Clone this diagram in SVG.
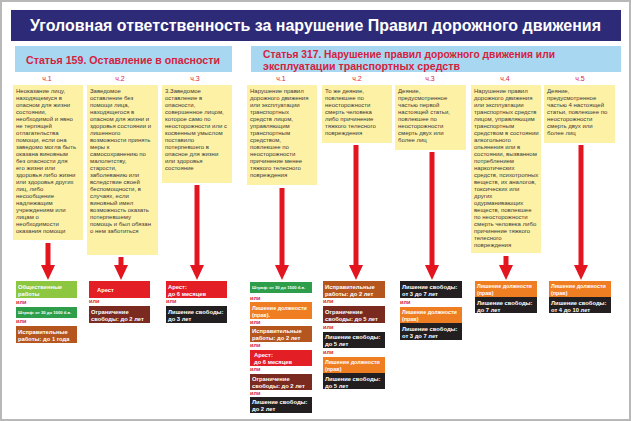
<svg xmlns="http://www.w3.org/2000/svg" width="631" height="421" viewBox="0 0 631 421">
<defs>
<style>
.frame{fill:#fff;stroke:#b8b8b8;stroke-width:2}
.ttl{font-family:"Liberation Sans",Arial,sans-serif;font-weight:bold;font-size:16px;fill:#fff}
.hdr{fill:#a7d7f1}
.hdt{font-family:"Liberation Sans",Arial,sans-serif;font-weight:bold;font-size:11.5px;fill:#d5213d}
.ch{font-family:"Liberation Sans",Arial,sans-serif;font-size:7px;fill:#d5213d;text-anchor:middle}
.yb{fill:#fdf1a5}
.yt{font-family:"Liberation Sans",Arial,sans-serif;font-size:6px;fill:#3a3a3a}
.bt{font-family:"Liberation Sans",Arial,sans-serif;font-weight:bold;font-size:5.8px;fill:#fff}
.ot{font-family:"Liberation Sans",Arial,sans-serif;font-weight:bold;font-size:5.4px;fill:#fff}
.st{font-family:"Liberation Sans",Arial,sans-serif;font-weight:bold;font-size:4.2px;fill:#fff}
.ili{font-family:"Liberation Sans",Arial,sans-serif;font-weight:bold;font-size:5.5px;fill:#d8232a}
.lime{fill:#8dc63f}.grn{fill:#2e9e4a}.brn{fill:#b5561f}.red{fill:#e31e24}.drd{fill:#7a2a1e}.blk{fill:#231f20}.org{fill:#ef7d22}
.arr{stroke:#e3161f;stroke-width:5;fill:none;marker-end:url(#ah)}
</style>
<marker id="ah" viewBox="0 0 15 14" markerWidth="15" markerHeight="14" refX="0" refY="7" orient="auto" markerUnits="userSpaceOnUse">
<path d="M0,0 L15,7 L0,14 z" fill="#e3161f"/>
</marker>
</defs>

<rect class="frame" x="1" y="1" width="629" height="419"/>

<g id="title">
<rect x="11" y="10" width="610" height="31" fill="#2d2a78"/>
<text class="ttl" x="30" y="31" textLength="571" lengthAdjust="spacingAndGlyphs">Уголовная ответственность за нарушение Правил дорожного движения</text>
</g>

<g id="header159">
<rect class="hdr" x="15" y="46" width="217" height="26"/>
<text class="hdt" x="26" y="63.5" textLength="194" lengthAdjust="spacingAndGlyphs">Статья 159. Оставление в опасности</text>
</g>

<g id="header317">
<rect class="hdr" x="251" y="46" width="370" height="26"/>
<text class="hdt" x="263" y="57.5" textLength="292" lengthAdjust="spacingAndGlyphs">Статья 317. Нарушение правил дорожного движения или</text>
<text class="hdt" x="263" y="69.5" textLength="197" lengthAdjust="spacingAndGlyphs">эксплуатации транспортных средств</text>
</g>

<g id="labels">
<text class="ch" x="47" y="81">ч.1</text>
<text class="ch" x="120" y="81">ч.2</text>
<text class="ch" x="195" y="81">ч.3</text>
<text class="ch" x="281" y="81">ч.1</text>
<text class="ch" x="357" y="81">ч.2</text>
<text class="ch" x="430" y="81">ч.3</text>
<text class="ch" x="505" y="81">ч.4</text>
<text class="ch" x="580" y="81">ч.5</text>
</g>

<g id="a159-1">
<rect class="yb" x="13" y="85" width="70" height="155"/>
<text class="yt" x="16" y="93"><tspan x="16">Неоказание лицу,</tspan><tspan x="16" dy="7">находящемуся в</tspan><tspan x="16" dy="7">опасном для жизни</tspan><tspan x="16" dy="7">состоянии,</tspan><tspan x="16" dy="7">необходимой и явно</tspan><tspan x="16" dy="7">не терпящей</tspan><tspan x="16" dy="7">отлагательства</tspan><tspan x="16" dy="7">помощи, если она</tspan><tspan x="16" dy="7">заведомо могла быть</tspan><tspan x="16" dy="7">оказана виновным</tspan><tspan x="16" dy="7">без опасности для</tspan><tspan x="16" dy="7">его жизни или</tspan><tspan x="16" dy="7">здоровья либо жизни</tspan><tspan x="16" dy="7">или здоровья других</tspan><tspan x="16" dy="7">лиц, либо</tspan><tspan x="16" dy="7">несообщение</tspan><tspan x="16" dy="7">надлежащим</tspan><tspan x="16" dy="7">учреждениям или</tspan><tspan x="16" dy="7">лицам о</tspan><tspan x="16" dy="7">необходимости</tspan><tspan x="16" dy="7">оказания помощи</tspan></text>
</g>

<g id="a159-2">
<rect class="yb" x="87" y="85" width="71" height="170"/>
<text class="yt" x="90" y="93"><tspan x="90">Заведомое</tspan><tspan x="90" dy="7">оставление без</tspan><tspan x="90" dy="7">помощи лица,</tspan><tspan x="90" dy="7">находящегося в</tspan><tspan x="90" dy="7">опасном для жизни и</tspan><tspan x="90" dy="7">здоровья состоянии и</tspan><tspan x="90" dy="7">лишенного</tspan><tspan x="90" dy="7">возможности принять</tspan><tspan x="90" dy="7">меры к</tspan><tspan x="90" dy="7">самосохранению по</tspan><tspan x="90" dy="7">малолетству,</tspan><tspan x="90" dy="7">старости,</tspan><tspan x="90" dy="7">заболеванию или</tspan><tspan x="90" dy="7">вследствие своей</tspan><tspan x="90" dy="7">беспомощности, в</tspan><tspan x="90" dy="7">случаях, если</tspan><tspan x="90" dy="7">виновный имел</tspan><tspan x="90" dy="7">возможность оказать</tspan><tspan x="90" dy="7">потерпевшему</tspan><tspan x="90" dy="7">помощь и был обязан</tspan><tspan x="90" dy="7">о нем заботиться</tspan></text>
</g>

<g id="a159-3">
<rect class="yb" x="162" y="85" width="70" height="98"/>
<text class="yt" x="165" y="93"><tspan x="165">3.Заведомое</tspan><tspan x="165" dy="7">оставление в</tspan><tspan x="165" dy="7">опасности,</tspan><tspan x="165" dy="7">совершенное лицом,</tspan><tspan x="165" dy="7">которое само по</tspan><tspan x="165" dy="7">неосторожности или с</tspan><tspan x="165" dy="7">косвенным умыслом</tspan><tspan x="165" dy="7">поставило</tspan><tspan x="165" dy="7">потерпевшего в</tspan><tspan x="165" dy="7">опасное для жизни</tspan><tspan x="165" dy="7">или здоровья</tspan><tspan x="165" dy="7">состояние</tspan></text>
</g>

<g id="a317-1">
<rect class="yb" x="247" y="85" width="70" height="100"/>
<text class="yt" x="250" y="93"><tspan x="250">Нарушение правил</tspan><tspan x="250" dy="7">дорожного движения</tspan><tspan x="250" dy="7">или эксплуатации</tspan><tspan x="250" dy="7">транспортных</tspan><tspan x="250" dy="7">средств лицом,</tspan><tspan x="250" dy="7">управляющим</tspan><tspan x="250" dy="7">транспортным</tspan><tspan x="250" dy="7">средством,</tspan><tspan x="250" dy="7">повлекшее по</tspan><tspan x="250" dy="7">неосторожности</tspan><tspan x="250" dy="7">причинение менее</tspan><tspan x="250" dy="7">тяжкого телесного</tspan><tspan x="250" dy="7">повреждения</tspan></text>
</g>

<g id="a317-2">
<rect class="yb" x="322" y="85" width="70" height="58"/>
<text class="yt" x="325" y="93"><tspan x="325">То же деяние,</tspan><tspan x="325" dy="7">повлекшее по</tspan><tspan x="325" dy="7">неосторожности</tspan><tspan x="325" dy="7">смерть человека</tspan><tspan x="325" dy="7">либо причинение</tspan><tspan x="325" dy="7">тяжкого телесного</tspan><tspan x="325" dy="7">повреждения</tspan></text>
</g>

<g id="a317-3">
<rect class="yb" x="395" y="85" width="71" height="65"/>
<text class="yt" x="398" y="93"><tspan x="398">Деяние,</tspan><tspan x="398" dy="7">предусмотренное</tspan><tspan x="398" dy="7">частью первой</tspan><tspan x="398" dy="7">настоящей статьи,</tspan><tspan x="398" dy="7">повлекшее по</tspan><tspan x="398" dy="7">неосторожности</tspan><tspan x="398" dy="7">смерть двух или</tspan><tspan x="398" dy="7">более лиц</tspan></text>
</g>

<g id="a317-4">
<rect class="yb" x="471" y="85" width="70" height="168"/>
<text class="yt" x="474" y="93"><tspan x="474">Нарушение правил</tspan><tspan x="474" dy="7">дорожного движения</tspan><tspan x="474" dy="7">или эксплуатации</tspan><tspan x="474" dy="7">транспортных средств</tspan><tspan x="474" dy="7">лицом, управляющим</tspan><tspan x="474" dy="7">транспортным</tspan><tspan x="474" dy="7">средством в состоянии</tspan><tspan x="474" dy="7">алкогольного</tspan><tspan x="474" dy="7">опьянения или в</tspan><tspan x="474" dy="7">состоянии, вызванном</tspan><tspan x="474" dy="7">потреблением</tspan><tspan x="474" dy="7">наркотических</tspan><tspan x="474" dy="7">средств, психотропных</tspan><tspan x="474" dy="7">веществ, их аналогов,</tspan><tspan x="474" dy="7">токсических или</tspan><tspan x="474" dy="7">других</tspan><tspan x="474" dy="7">одурманивающих</tspan><tspan x="474" dy="7">веществ, повлекшее</tspan><tspan x="474" dy="7">по неосторожности</tspan><tspan x="474" dy="7">смерть человека либо</tspan><tspan x="474" dy="7">причинение тяжкого</tspan><tspan x="474" dy="7">телесного</tspan><tspan x="474" dy="7">повреждения</tspan></text>
</g>

<g id="a317-5">
<rect class="yb" x="544" y="85" width="71" height="58"/>
<text class="yt" x="547" y="93"><tspan x="547">Деяние,</tspan><tspan x="547" dy="7">предусмотренное</tspan><tspan x="547" dy="7">частью 4 настоящей</tspan><tspan x="547" dy="7">статьи, повлекшее по</tspan><tspan x="547" dy="7">неосторожности</tspan><tspan x="547" dy="7">смерть двух или</tspan><tspan x="547" dy="7">более лиц</tspan></text>
</g>

<g id="connectors">
<line class="arr" x1="48" y1="243" x2="48" y2="265"/>
<line class="arr" x1="121" y1="257" x2="121" y2="265"/>
<line class="arr" x1="197" y1="185" x2="197" y2="265"/>
<line class="arr" x1="282" y1="188" x2="282" y2="265"/>
<line class="arr" x1="356" y1="145" x2="356" y2="265"/>
<line class="arr" x1="432" y1="152" x2="432" y2="265"/>
<line class="arr" x1="506" y1="256" x2="506" y2="265"/>
<line class="arr" x1="581" y1="145" x2="581" y2="265"/>
</g>

<g id="p159-1">
<rect class="lime" x="16" y="281" width="61" height="17"/>
<text class="bt" x="18" y="288.5"><tspan x="18">Общественные</tspan><tspan x="18" dy="7">работы</tspan></text>
<text class="ili" x="16" y="304">или</text>
<rect class="grn" x="16" y="307" width="61" height="11"/>
<text class="st" x="18" y="314">Штраф: от 30 до 1000 б.в.</text>
<text class="ili" x="16" y="323">или</text>
<rect class="brn" x="16" y="326" width="61" height="17"/>
<text class="bt" x="18" y="333.5"><tspan x="18">Исправительные</tspan><tspan x="18" dy="7">работы: до 1 года</tspan></text>
</g>

<g id="p159-2">
<rect class="red" x="89" y="281" width="61" height="17"/>
<text class="bt" x="97" y="292">Арест</text>
<text class="ili" x="89" y="303">или</text>
<rect class="drd" x="89" y="306" width="61" height="17"/>
<text class="bt" x="91" y="313.5"><tspan x="91">Ограничение</tspan><tspan x="91" dy="7">свободы: до 2 лет</tspan></text>
</g>

<g id="p159-3">
<rect class="red" x="166" y="281" width="61" height="17"/>
<text class="bt" x="168" y="288.5"><tspan x="168">Арест:</tspan><tspan x="168" dy="7">до 6 месяцев</tspan></text>
<text class="ili" x="166" y="303">или</text>
<rect class="blk" x="166" y="306" width="61" height="17"/>
<text class="bt" x="168" y="313.5"><tspan x="168">Лишение свободы:</tspan><tspan x="168" dy="7">до 3 лет</tspan></text>
</g>

<g id="p317-1">
<rect class="grn" x="250" y="282" width="62" height="11"/>
<text class="st" x="252" y="289">Штраф: от 30 до 1500 б.в.</text>
<text class="ili" x="250" y="299.5">или</text>
<rect class="org" x="250" y="302" width="62" height="17"/>
<text class="ot" x="252" y="309.5"><tspan x="252">Лишение должности</tspan><tspan x="252" dy="7">(прав).</tspan></text>
<text class="ili" x="250" y="323.5">или</text>
<rect class="brn" x="250" y="326" width="62" height="16"/>
<text class="bt" x="252" y="333"><tspan x="252">Исправительные</tspan><tspan x="252" dy="7">работы: до 2 лет</tspan></text>
<text class="ili" x="250" y="347">или</text>
<rect class="red" x="250" y="350" width="62" height="16"/>
<text class="bt" x="254" y="357"><tspan x="254">Арест:</tspan><tspan x="254" dy="7">до 6 месяцев</tspan></text>
<text class="ili" x="250" y="371">или</text>
<rect class="drd" x="250" y="374" width="62" height="16"/>
<text class="bt" x="252" y="381"><tspan x="252">Ограничение</tspan><tspan x="252" dy="7">свободы: до 2 лет</tspan></text>
<text class="ili" x="250" y="394.5">или</text>
<rect class="blk" x="250" y="397" width="62" height="16"/>
<text class="bt" x="252" y="404"><tspan x="252">Лишение свободы:</tspan><tspan x="252" dy="7">до 2 лет</tspan></text>
</g>

<g id="p317-2">
<rect class="brn" x="323" y="281" width="62" height="17"/>
<text class="bt" x="325" y="288.5"><tspan x="325">Исправительные</tspan><tspan x="325" dy="7">работы: до 2 лет</tspan></text>
<text class="ili" x="323" y="303">или</text>
<rect class="drd" x="323" y="306" width="62" height="17"/>
<text class="bt" x="325" y="313.5"><tspan x="325">Ограничение</tspan><tspan x="325" dy="7">свободы: до 5 лет</tspan></text>
<text class="ili" x="323" y="328.5">или</text>
<rect class="blk" x="323" y="332" width="62" height="16"/>
<text class="bt" x="325" y="339"><tspan x="325">Лишение свободы:</tspan><tspan x="325" dy="7">до 5 лет</tspan></text>
<text class="ili" x="323" y="353.5">или</text>
<rect class="org" x="323" y="357" width="62" height="16"/>
<text class="ot" x="325" y="364"><tspan x="325">Лишение должности</tspan><tspan x="325" dy="7">(прав)</tspan></text>
<rect class="blk" x="323" y="373" width="62" height="16"/>
<text class="bt" x="325" y="380.5"><tspan x="325">Лишение свободы:</tspan><tspan x="325" dy="7">до 5 лет</tspan></text>
</g>

<g id="p317-3">
<rect class="blk" x="400" y="281" width="62" height="17"/>
<text class="bt" x="402" y="288.5"><tspan x="402">Лишение свободы:</tspan><tspan x="402" dy="7">от 3 до 7 лет</tspan></text>
<text class="ili" x="400" y="303.5">или</text>
<rect class="org" x="400" y="307" width="62" height="16"/>
<text class="ot" x="402" y="314"><tspan x="402">Лишение должности</tspan><tspan x="402" dy="7">(прав)</tspan></text>
<rect class="blk" x="400" y="323" width="62" height="17"/>
<text class="bt" x="402" y="330.5"><tspan x="402">Лишение свободы:</tspan><tspan x="402" dy="7">от 3 до 7 лет</tspan></text>
</g>

<g id="p317-4">
<rect class="org" x="475" y="281" width="62" height="16"/>
<text class="ot" x="477" y="288"><tspan x="477">Лишение должности</tspan><tspan x="477" dy="7">(прав)</tspan></text>
<rect class="blk" x="475" y="297" width="62" height="16"/>
<text class="bt" x="477" y="304.5"><tspan x="477">Лишение свободы:</tspan><tspan x="477" dy="7">до 7 лет</tspan></text>
</g>

<g id="p317-5">
<rect class="org" x="549" y="281" width="62" height="16"/>
<text class="ot" x="551" y="288"><tspan x="551">Лишение должности</tspan><tspan x="551" dy="7">(прав)</tspan></text>
<rect class="blk" x="549" y="297" width="62" height="16"/>
<text class="bt" x="551" y="304.5"><tspan x="551">Лишение свободы:</tspan><tspan x="551" dy="7">от 4 до 10 лет</tspan></text>
</g>
</svg>
